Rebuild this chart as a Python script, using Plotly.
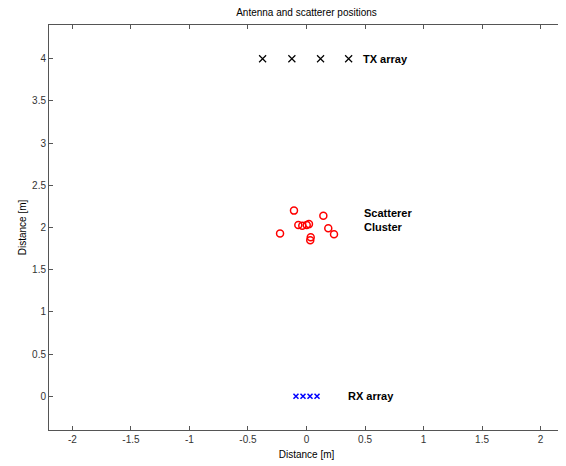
import plotly.graph_objects as go

tx_x = [-0.375, -0.125, 0.12, 0.36]
tx_y = [4, 4, 4, 4]
rx_x = [-0.09, -0.03, 0.03, 0.09]
rx_y = [0, 0, 0, 0]
sc_x = [-0.107, 0.144, -0.07, -0.036, 0.002, 0.021, -0.226, 0.186, 0.235, 0.036, 0.032]
sc_y = [2.20, 2.14, 2.03, 2.02, 2.03, 2.04, 1.93, 1.99, 1.92, 1.885, 1.85]

x_ticks = [-2, -1.5, -1, -0.5, 0, 0.5, 1, 1.5, 2]
y_ticks = [0, 0.5, 1, 1.5, 2, 2.5, 3, 3.5, 4]

fig = go.Figure()
fig.add_trace(go.Scatter(x=tx_x, y=tx_y, mode="markers",
                         marker=dict(symbol="x-thin-open", size=7, color="black",
                                     line=dict(width=1.2, color="#222222"))))
fig.add_trace(go.Scatter(x=rx_x, y=rx_y, mode="markers",
                         marker=dict(symbol="x-thin-open", size=5, color="blue",
                                     line=dict(width=1.5, color="blue"))))
fig.add_trace(go.Scatter(x=sc_x, y=sc_y, mode="markers",
                         marker=dict(symbol="circle-open", size=7, color="red",
                                     line=dict(width=1.5, color="red"))))

ann_font = dict(family="Liberation Sans, Arial, sans-serif", size=11, color="black")
fig.add_annotation(x=0.465, y=4, text="<b>TX array</b>", showarrow=False,
                   xanchor="left", yanchor="middle", font=ann_font)
fig.add_annotation(x=0.47, y=2.09, text="<b>Scatterer<br>Cluster</b>", showarrow=False,
                   xanchor="left", yanchor="middle", align="left", font=ann_font)
fig.add_annotation(x=0.34, y=0, text="<b>RX array</b>", showarrow=False,
                   xanchor="left", yanchor="middle", font=ann_font)

axis_common = dict(showgrid=False, zeroline=False, showline=True, linecolor="#555555",
                   linewidth=1, mirror="ticks", ticks="inside", ticklen=4,
                   tickcolor="#555555", tickfont=dict(size=10, color="#333333"))
fig.update_xaxes(range=[-2.2, 2.2], tickvals=x_ticks,
                 ticktext=[f"{v:g}" for v in x_ticks],
                 title=dict(text="Distance [m]", font=dict(size=10), standoff=6),
                 **axis_common)
fig.update_yaxes(range=[-0.4, 4.4], tickvals=y_ticks,
                 ticktext=[f"{v:g}" for v in y_ticks],
                 title=dict(text="Distance [m]", font=dict(size=10), standoff=3),
                 **axis_common)

fig.update_layout(
    width=558, height=458,
    margin=dict(l=41, r=2, t=17, b=36),
    paper_bgcolor="white", plot_bgcolor="white",
    showlegend=False,
    font=dict(family="Liberation Sans, Arial, sans-serif", size=10, color="black"),
    title=dict(text="Antenna and scatterer positions", x=0.5, xanchor="center",
               xref="paper", y=1 - 1 / 458, yanchor="top", font=dict(size=10)),
)
fig.write_html("out.html")
